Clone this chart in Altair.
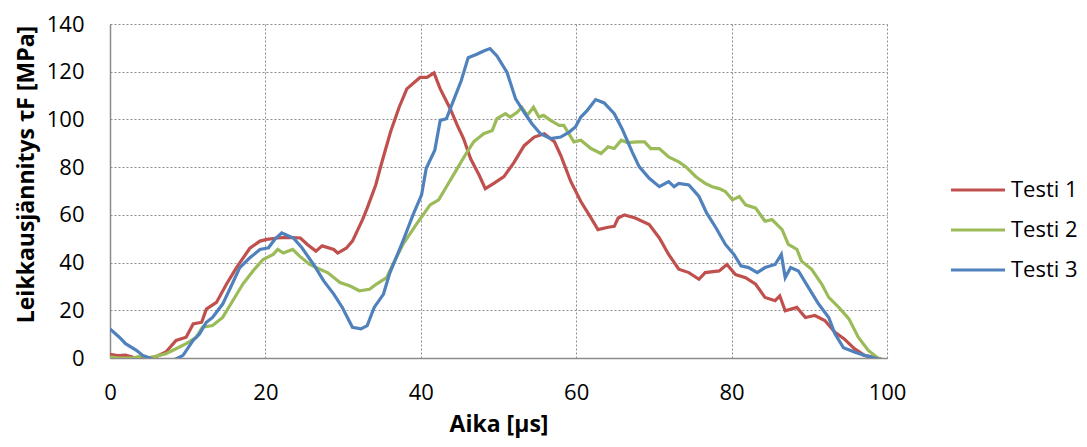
import altair as alt
import pandas as pd

# Series: (time µs, shear stress MPa)
testi1 = [(0,1.5),(1,1.0),(2,1.2),(3,0.3),(4.5,0),(5.9,0.5),(7.2,2.5),(8.5,7.4),(9.8,8.7),(10.7,14.3),
          (11.8,15),(12.4,20.5),(13.7,23.3),(15,31),(16.3,38),(18,46),(19.3,49),(20.2,49.7),(21.5,50.3),
          (22.8,50.6),(24.5,50.3),(25.4,47.6),(26.5,44.8),(27.3,47),(28.8,45.5),(29.3,44),(30.4,46),
          (31.2,49),(31.9,53.8),(32.5,58),(33.1,62.8),(34.2,72.5),(34.9,81),(36.1,94.7),(37.2,105),
          (38.2,112.8),(39.9,117.6),(40.8,117.6),(41.7,119.5),(42.5,112.8),(43.8,104.4),(44.7,97.5),
          (45.5,92),(46.4,83.6),(47.5,76.7),(48.3,71),(49.4,73.2),(50.7,76),(52,82),(53.3,89),(54.6,92.6),
          (55.9,94),(57.2,90.6),(58,85),(59.3,74),(60.6,65.6),(61.9,58.7),(62.8,53.8),(64.1,54.8),
          (64.9,55.2),(65.4,58.7),(66.2,60),(67.6,58.7),(69.4,55.9),(70.7,50.3),(71.9,43.4),(73.2,37.2),
          (74.5,35.8),(75.8,33),(76.6,35.8),(78.4,36.5),(79.4,39.2),(80.5,35),(81.8,33.7),(83.1,30.9),
          (84.3,25.4),(85.6,24),(86.2,26),(86.9,19.8),(88.4,21.2),(89.5,17),(90.7,17.8),(92,15.7),
          (93.3,10.8),(94.5,8),(95.8,3.9),(97.1,1.1),(98.8,0),(99.7,-1)]

testi2 = [(0,0.4),(1.2,0),(2.9,0),(4.2,1),(5.1,0),(6.2,1),(7.2,1.8),(8.5,3.9),(9.8,6),(11.1,8.7),
          (11.9,12.9),(13.2,13.6),(14.5,17),(15.8,24),(17.1,31),(18.4,36.5),(19.7,41.3),(21,43.4),
          (21.6,45.5),(22.3,44),(23.5,45.5),(24.4,42.7),(25.7,39.2),(27,37.2),(28,35.8),(29.6,31.6),
          (30.9,30.2),(32.1,28.2),(33.4,28.8),(34.3,31),(35.6,33.7),(36.4,39.2),(37.7,47.6),(39.4,55.9),
          (41.2,64.2),(42.3,66.3),(43.3,71.8),(44.7,79.5),(45.7,85),(46.8,90.6),(48.1,94),(49.2,95.4),
          (49.8,100.3),(50.9,102.4),(51.5,101),(52.4,103),(53,105.1),(53.7,101.7),(54.5,105.1),(55.2,101),
          (55.8,101.7),(56.7,99.6),(57.8,97.5),(58.4,97.5),(59.7,90.6),(60.6,91.3),(61.9,87.8),(63.2,85.7),
          (64.1,88.5),(64.9,87.8),(65.8,91.3),(66.6,90.3),(67.9,90.6),(68.8,90.6),(69.6,87.8),(70.7,87.8),
          (71.9,84.3),(73.2,82.2),(74.1,80.2),(75.4,76),(76.6,73.2),(77.5,71.8),(78.4,71),(79.2,69.8),
          (80.1,66.3),(81,67.7),(81.8,64.2),(83.1,62.8),(84.3,57.3),(85.2,58),(86.5,53.8),(87.3,47.6),
          (88.4,45.5),(89,40.6),(90.3,37.2),(91.6,31),(92.5,25.4),(93.8,21.2),(95.1,16.4),(96.3,8.7),
          (97.6,3.2),(98.8,0),(99.7,-1)]

testi3 = [(0,12.2),(1.2,8.7),(2,6),(3.4,3.2),(4.2,1.1),(5.1,0),(5.9,-1),(8.1,-1),(9.4,1.1),(10.7,7.4),
          (11.5,10),(12.4,15),(13.2,17),(14.5,22.6),(15.6,30.2),(16.7,37.9),(18,42),(19.3,45.5),
          (20.4,46.2),(21.2,49.7),(22.1,52.4),(23.6,50.3),(24.7,46.2),(26.2,39.2),(27.5,32.3),(28.8,26.8),
          (29.9,21.2),(31.2,12.9),(32.3,12.2),(33.1,13.6),(34,21.2),(35.2,26.8),(36,35.5),(37.7,49),
          (39,60),(40.1,68.4),(40.7,79.5),(41.8,87.1),(42.5,99.6),(43.3,100.3),(44.2,107.9),(45.2,116.2),
          (46.1,125.9),(47.2,127.3),(48.1,128.7),(48.9,129.7),(49.8,126.6),(51.1,119.7),(52.2,108.6),
          (53.3,103),(54.3,98.2),(55.4,94),(56.7,92),(58,92.6),(59.1,94.7),(59.9,96.8),(60.6,101),
          (61.4,103.7),(62.5,108.3),(63.6,106.9),(64.9,102.4),(65.9,96.1),(67.2,86.4),(68.1,80.2),
          (69.4,75.3),(70.7,71.8),(71.9,73.9),(72.6,71.8),(73.2,73.2),(74.5,72.5),(75.8,67.7),(76.8,60.7),
          (78,54.5),(79.2,47.6),(80.3,43.4),(81.2,38.6),(82.2,37.9),(83.3,35.8),(84.3,37.9),(85.6,39.2),
          (86.4,43.4),(86.9,33.7),(87.6,37.9),(88.6,36.5),(89.9,29.5),(91.2,22.6),(92.5,17),(93.3,10.1),
          (94.4,4.3),(95.8,2.5),(97.1,1.1),(98.4,0),(99.5,-1)]

series_names = ["Testi 1", "Testi 2", "Testi 3"]
series_colors = ["#C0504D", "#9BBB59", "#4F81BD"]
x_ticks = [0, 20, 40, 60, 80, 100]
y_ticks = [0, 20, 40, 60, 80, 100, 120, 140]

rows = []
for name, data in zip(series_names, [testi1, testi2, testi3]):
    for i, (x, y) in enumerate(data):
        rows.append({"Aika": x, "Tau": y, "Sarja": name, "i": i})
df = pd.DataFrame(rows)

FONT = "Open Sans"

chart = alt.Chart(df).mark_line(strokeWidth=3.2, clip=True).encode(
    x=alt.X("Aika:Q", scale=alt.Scale(domain=[0, 100], nice=False),
            axis=alt.Axis(values=x_ticks, title="Aika [µs]", format="d")),
    y=alt.Y("Tau:Q", scale=alt.Scale(domain=[0, 140], nice=False),
            axis=alt.Axis(values=y_ticks, title="Leikkausjännitys τF [MPa]", format="d",
                          titleY=150)),
    color=alt.Color("Sarja:N",
                    scale=alt.Scale(domain=series_names, range=series_colors),
                    legend=alt.Legend(title=None, orient="none", legendX=839, legendY=137,
                                      symbolType="stroke", symbolSize=2916, symbolStrokeWidth=3.2,
                                      labelFontSize=22, labelFont=FONT, labelColor="#000000",
                                      labelOffset=4, rowPadding=-5.5, padding=0)),
    order="i:Q",
).properties(
    width=777, height=334,
    autosize=alt.AutoSizeParams(type="none"),
    padding={"left": 102, "top": 16, "right": 192, "bottom": 81},
).configure_view(
    stroke=None
).configure_axis(
    labelFont=FONT, labelFontSize=22, labelColor="#000000", labelFlush=False,
    titleFont=FONT, titleFontSize=23, titleFontWeight="bold", titleColor="#000000",
    grid=True, gridColor="#8c8c8c", gridDash=[2, 2], gridWidth=1,
    domainColor="#8c8c8c", domainWidth=1.5, ticks=False,
).configure_axisY(
    labelPadding=26, titlePadding=8,
).configure_axisX(
    labelPadding=24, titlePadding=10,
)

chart.save("out.html", embed_options={"renderer": "svg", "actions": False})
